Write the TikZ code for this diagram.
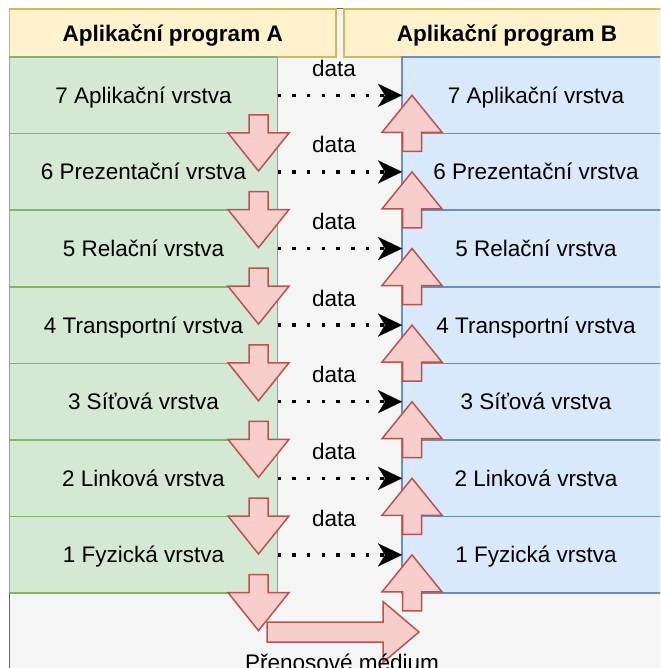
\documentclass[tikz,border=0pt]{standalone}
\usepackage{fontspec}
\setmainfont{Liberation Sans}
\usetikzlibrary{arrows.meta}

\definecolor{bgfill}{HTML}{F5F5F5}
\definecolor{bgline}{HTML}{666666}
\definecolor{hdfill}{HTML}{FFF2CC}
\definecolor{hdline}{HTML}{D6B656}
\definecolor{grfill}{HTML}{D5E8D4}
\definecolor{grline}{HTML}{82B366}
\definecolor{blfill}{HTML}{DAE8FC}
\definecolor{blline}{HTML}{6C8EBF}
\definecolor{rdfill}{HTML}{F8CECC}
\definecolor{rdline}{HTML}{B85450}

\tikzset{
  txt/.style={inner sep=0pt, outer sep=0pt, text height=16.1pt, text depth=0pt},
  header/.style={txt, draw=hdline, fill=hdfill, line width=1.5pt,
    minimum height=48pt, anchor=north west, font=\fontsize{22.5}{27}\selectfont\bfseries},
  layerA/.style={txt, draw=grline, fill=grfill, line width=1.5pt,
    minimum width=268pt, minimum height=76.6pt, anchor=north west},
  layerB/.style={txt, draw=blline, fill=blfill, line width=1.5pt,
    minimum width=268pt, minimum height=76.6pt, anchor=north west},
  datalabel/.style={txt},
  dotarrow/.style={line width=3.5pt, dash pattern=on 3.5pt off 11.2pt,
    -{Stealth[length=24pt, width=23pt, inset=7pt, line width=0.01pt]}},
  blockarrow/.style={draw=rdline, fill=rdfill, line width=1.5pt, line join=miter},
  downblock/.pic={\draw[blockarrow] (-9.5,0) -- (9.5,0) -- (9.5,18) -- (30.5,18)
    -- (0,56) -- (-30.5,18) -- (-9.5,18) -- cycle;},
  upblock/.pic={\draw[blockarrow] (0,0) -- (30,37) -- (9.5,37) -- (9.5,56)
    -- (-9.5,56) -- (-9.5,37) -- (-30,37) -- cycle;}
}

\begin{document}
\begin{tikzpicture}[x=1pt, y=-1pt, font=\fontsize{22.5}{27}\selectfont]
\useasboundingbox (0,0) rectangle (660,668);
\clip (0,0) rectangle (660,668);

% grey container behind everything
\draw[fill=bgfill, draw=bgline, line width=1.5pt] (9.5,8.5) rectangle (680,690);

% application headers
\node[header, minimum width=326.5pt] (hA) at (9.5,9) {Aplikační program A};
\node[header, minimum width=326pt] (hB) at (344,9) {Aplikační program B};

% the seven layers on both sides
\foreach \n/\t [count=\r from 0] in {7/Aplikační,6/Prezentační,5/Relační,4/Transportní,3/Síťová,2/Linková,1/Fyzická}{
  \pgfmathsetmacro\rowtop{57+\r*76.6}
  \node[layerA] (L\n) at (9.5,\rowtop) {\n\ \t\ vrstva};
  \node[layerB] (R\n) at (402,\rowtop) {\n\ \t\ vrstva};
}

% peer-to-peer data flow
\foreach \n/\dy in {7/27,6/27,5/27,4/27,3/27,2/27,1/36}{
  \draw[dotarrow] (L\n.east) -- (R\n.west);
  \path (L\n.east) ++(56.5,-\dy) node[datalabel] (D\n) {data};
}

% downward flow through stack A
\foreach \r in {0,...,6}
  \pic at (258.5,{115+\r*76.6}) {downblock};

% upward flow through stack B
\foreach \n in {7,...,1}
  \pic at ([xshift=10pt]R\n.west) {upblock};

% transfer over the medium
\draw[blockarrow] (267,622) -- (383,622) -- (383,601.5) -- (419,632)
  -- (383,662.5) -- (383,642) -- (267,642) -- cycle;
\node[txt] (medium) at (342,662) {Přenosové médium};
\end{tikzpicture}
\end{document}
